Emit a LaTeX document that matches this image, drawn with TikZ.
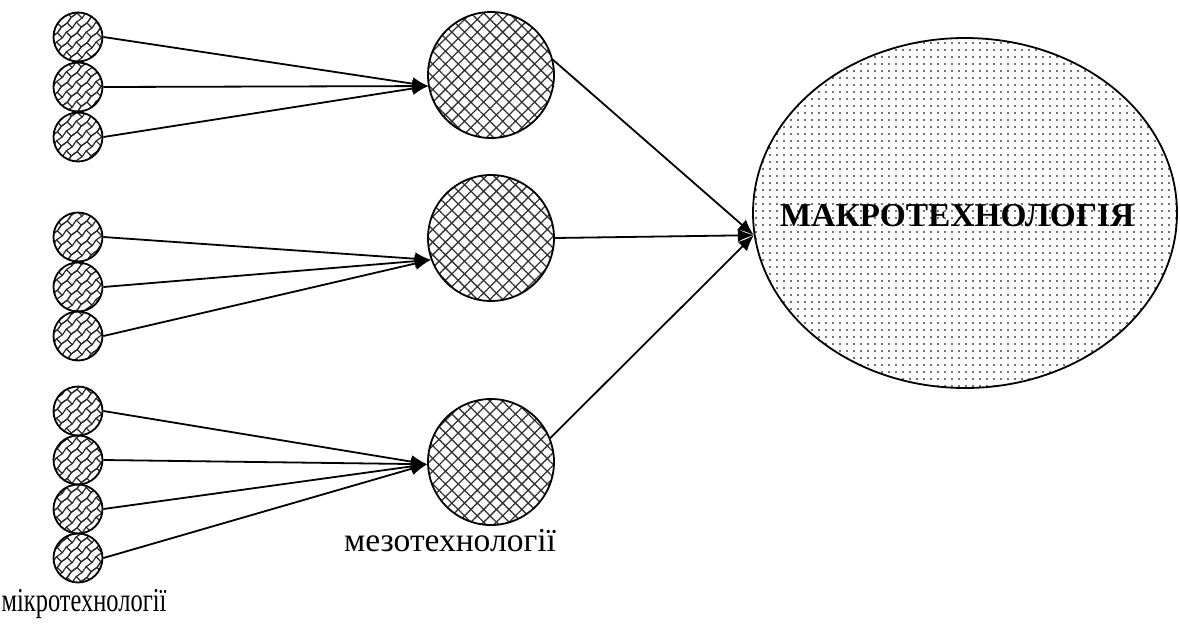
\documentclass[tikz,border=0pt]{standalone}
\usepackage{fontspec}
\usepackage{graphicx}
\setmainfont{Liberation Serif}
\usetikzlibrary{arrows.meta,patterns.meta,shapes.geometric}

% wavy weave for the small circles
\tikzdeclarepattern{
  name=weave,
  type=uncolored,
  bottom left={(-1pt,-1pt)},
  top right={(15pt,15pt)},
  tile size={(14pt,14pt)},
  tile transformation={rotate=45},
  code={
    \tikzset{x=1pt,y=1pt}
    \draw[line width=1.2pt] (0,0) .. controls (3.5,2.2) and (10.5,-2.2) .. (14,0);
    \draw[line width=1.2pt] (0,7) .. controls (3.5,9.2) and (10.5,4.8) .. (14,7);
    \draw[line width=1.2pt] (0,14) .. controls (3.5,16.2) and (10.5,11.8) .. (14,14);
    \draw[line width=1.2pt] (3.5,1) .. controls (1.8,3) and (5.2,4.8) .. (3.5,8);
    \draw[line width=1.2pt] (10.5,6) .. controls (8.8,8.8) and (12.2,10.5) .. (10.5,13);
  }
}

\tikzset{
  micro/.style={circle,draw,line width=1.8pt,minimum size=49pt,inner sep=0pt,
    pattern=weave,pattern color=black!85},
  meso/.style={circle,draw,line width=1.8pt,minimum size=126pt,inner sep=0pt,
    pattern={Hatch[angle=45,distance=9pt,line width=1.3pt]},pattern color=black!80},
  macro/.style={ellipse,draw,line width=1.8pt,minimum width=424pt,minimum height=350pt,
    inner sep=0pt,pattern={Dots[distance=7pt,radius=1.1pt]},pattern color=black!75},
  link/.style={line width=1.8pt,-{Latex[length=16pt,width=13pt]}},
  caption/.style={font=\fontsize{33.5}{38}\selectfont,inner sep=0pt}
}

\begin{document}
\begin{tikzpicture}[x=1pt,y=-1pt,line join=round]
  \useasboundingbox (0,0) rectangle (1180,624);

  % small circles
  \foreach \n/\y in {a1/37,a2/87,a3/137,b1/237,b2/287,b3/336,c1/411,c2/460,c3/509,c4/558}
    \node[micro] (\n) at (78,\y) {};

  % middle circles and the big one
  \node[meso] (m1) at (491,75) {};
  \node[meso] (m2) at (491,238) {};
  \node[meso] (m3) at (491,462) {};
  \node[macro] (mac) at (965,213) {};
  \node[inner sep=0pt,font=\fontsize{33.4}{38}\selectfont\bfseries] (macname) at (957,216)
    {МАКРОТЕХНОЛОГІЯ};

  \foreach \n/\m/\a in {a1/m1/190,a2/m1/190,a3/m1/190,
                        b1/m2/200,b2/m2/200,b3/m2/200,
                        c1/m3/182,c2/m3/182,c3/m3/182,c4/m3/182}
    \draw[link] (\n.east) -- (\m.\a);

  \foreach \m/\a in {m1/14,m2/0,m3/22}
    \draw[link] (\m.\a) -- (mac.186);

  \node[caption] (mezo) at (450,541) {мезотехнології};
  \node[caption] (mikro) at (84,604) {\scalebox{0.73}[1]{мікротехнології}};
\end{tikzpicture}
\end{document}
